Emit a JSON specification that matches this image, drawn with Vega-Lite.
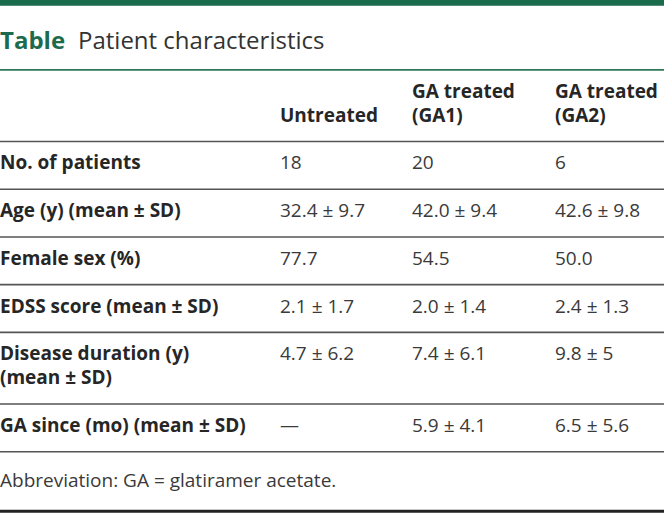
{
  "$schema": "https://vega.github.io/schema/vega-lite/v6.json",
  "width": 664,
  "height": 513,
  "autosize": {"type": "none"},
  "padding": 0,
  "background": "white",
  "config": {"view": {"stroke": null}, "text": {"font": "Open Sans"}},
  "datasets": {
    "cells": [
      {"line": -4, "col": 0, "text": "Table", "part": "titleLead"},
      {"line": -4, "col": 0, "text": "Patient characteristics", "part": "title"},
      {"line": -1, "col": 1, "text": "Untreated", "part": "header"},
      {"line": -2, "col": 2, "text": "GA treated", "part": "header"},
      {"line": -1, "col": 2, "text": "(GA1)", "part": "header"},
      {"line": -2, "col": 3, "text": "GA treated", "part": "header"},
      {"line": -1, "col": 3, "text": "(GA2)", "part": "header"},
      {"line": 1, "col": 0, "text": "No. of patients", "part": "label"},
      {"line": 1, "col": 1, "text": "18", "part": "value"},
      {"line": 1, "col": 2, "text": "20", "part": "value"},
      {"line": 1, "col": 3, "text": "6", "part": "value"},
      {"line": 3, "col": 0, "text": "Age (y) (mean ± SD)", "part": "label"},
      {"line": 3, "col": 1, "text": "32.4 ± 9.7", "part": "value"},
      {"line": 3, "col": 2, "text": "42.0 ± 9.4", "part": "value"},
      {"line": 3, "col": 3, "text": "42.6 ± 9.8", "part": "value"},
      {"line": 5, "col": 0, "text": "Female sex (%)", "part": "label"},
      {"line": 5, "col": 1, "text": "77.7", "part": "value"},
      {"line": 5, "col": 2, "text": "54.5", "part": "value"},
      {"line": 5, "col": 3, "text": "50.0", "part": "value"},
      {"line": 7, "col": 0, "text": "EDSS score (mean ± SD)", "part": "label"},
      {"line": 7, "col": 1, "text": "2.1 ± 1.7", "part": "value"},
      {"line": 7, "col": 2, "text": "2.0 ± 1.4", "part": "value"},
      {"line": 7, "col": 3, "text": "2.4 ± 1.3", "part": "value"},
      {"line": 9, "col": 0, "text": "Disease duration (y)", "part": "label"},
      {"line": 10, "col": 0, "text": "(mean ± SD)", "part": "label"},
      {"line": 9, "col": 1, "text": "4.7 ± 6.2", "part": "value"},
      {"line": 9, "col": 2, "text": "7.4 ± 6.1", "part": "value"},
      {"line": 9, "col": 3, "text": "9.8 ± 5", "part": "value"},
      {"line": 12, "col": 0, "text": "GA since (mo) (mean ± SD)", "part": "label"},
      {"line": 12, "col": 1, "text": "—", "part": "value"},
      {"line": 12, "col": 2, "text": "5.9 ± 4.1", "part": "value"},
      {"line": 12, "col": 3, "text": "6.5 ± 5.6", "part": "value"},
      {"line": 14, "col": 0, "text": "Abbreviation: GA = glatiramer acetate.", "part": "note"}
    ],
    "rules": [
      {"line": -6, "kind": "band"},
      {"line": -3, "kind": "green"},
      {"line": 0, "kind": "body"},
      {"line": 2, "kind": "body"},
      {"line": 4, "kind": "body"},
      {"line": 6, "kind": "body"},
      {"line": 8, "kind": "body"},
      {"line": 11, "kind": "body"},
      {"line": 13, "kind": "body"},
      {"line": 15.5, "kind": "bottom"}
    ]
  },
  "encoding": {
    "y": {"field": "line", "type": "quantitative", "axis": null,
          "scale": {"domain": [0, 13], "range": [141.5, 451.7], "zero": false, "nice": false}}
  },
  "layer": [
    {
      "data": {"name": "rules"},
      "transform": [{"filter": "datum.kind === 'band'"}],
      "mark": {"type": "rule", "color": "#1a6a4c", "strokeWidth": 15},
      "encoding": {}
    },
    {
      "data": {"name": "rules"},
      "transform": [{"filter": "datum.kind === 'green'"}],
      "mark": {"type": "rule", "color": "#2f7657", "strokeWidth": 1.6},
      "encoding": {}
    },
    {
      "data": {"name": "rules"},
      "transform": [{"filter": "datum.kind === 'body'"}],
      "mark": {"type": "rule", "color": "#555555", "strokeWidth": 1.6},
      "encoding": {}
    },
    {
      "data": {"name": "rules"},
      "transform": [{"filter": "datum.kind === 'bottom'"}],
      "mark": {"type": "rule", "color": "#222222", "strokeWidth": 3},
      "encoding": {}
    },
    {
      "data": {"name": "cells"},
      "transform": [{"filter": "datum.part === 'titleLead'"}],
      "mark": {"type": "text", "align": "left", "baseline": "alphabetic", "dy": 3, "fontSize": 24, "fontWeight": "bold", "color": "#1d6b4f"},
      "encoding": {
        "x": {"field": "col", "type": "quantitative", "axis": null, "scale": {"domain": [0, 1, 2, 3], "range": [0, 280, 412, 555], "zero": false, "nice": false}},
        "text": {"field": "text"}
      }
    },
    {
      "data": {"name": "cells"},
      "transform": [{"filter": "datum.part === 'title'"}],
      "mark": {"type": "text", "align": "left", "baseline": "alphabetic", "dy": 3, "dx": 78, "fontSize": 24, "color": "#333333"},
      "encoding": {
        "x": {"field": "col", "type": "quantitative"},
        "text": {"field": "text"}
      }
    },
    {
      "data": {"name": "cells"},
      "transform": [{"filter": "datum.part === 'header' || datum.part === 'label'"}],
      "mark": {"type": "text", "align": "left", "baseline": "alphabetic", "dy": 4, "fontSize": 19, "fontWeight": "bold", "color": "#262626"},
      "encoding": {
        "x": {"field": "col", "type": "quantitative"},
        "text": {"field": "text"}
      }
    },
    {
      "data": {"name": "cells"},
      "transform": [{"filter": "datum.part === 'value'"}],
      "mark": {"type": "text", "align": "left", "baseline": "alphabetic", "dy": 4, "fontSize": 19, "color": "#3a3a3a"},
      "encoding": {
        "x": {"field": "col", "type": "quantitative"},
        "text": {"field": "text"}
      }
    },
    {
      "data": {"name": "cells"},
      "transform": [{"filter": "datum.part === 'note'"}],
      "mark": {"type": "text", "align": "left", "baseline": "alphabetic", "dy": 11, "fontSize": 19, "color": "#3a3a3a"},
      "encoding": {
        "x": {"field": "col", "type": "quantitative"},
        "text": {"field": "text"}
      }
    }
  ]
}
